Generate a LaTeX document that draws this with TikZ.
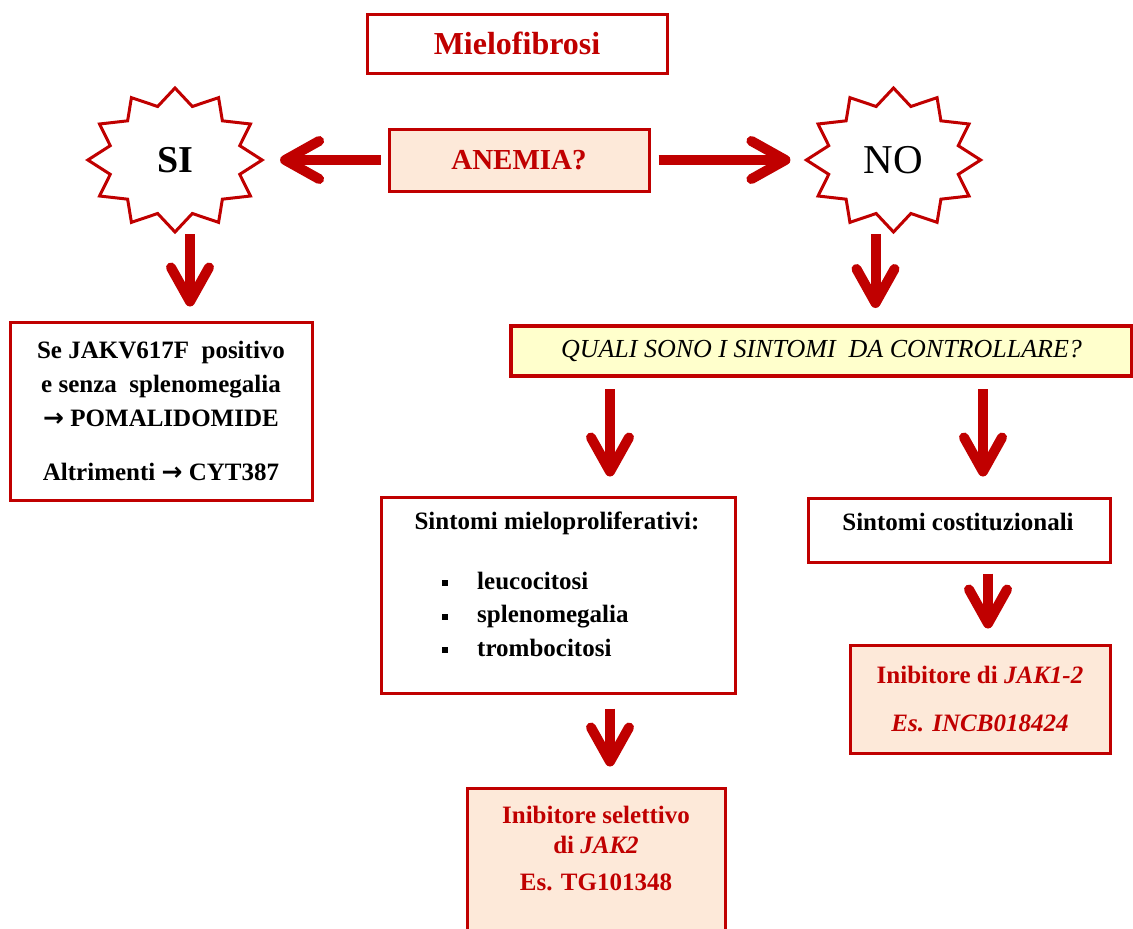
\documentclass[tikz,border=0pt]{standalone}
\usepackage{fontspec}
\setmainfont{Liberation Serif}
\newfontfamily\arrowfont{DejaVu Sans}
\usetikzlibrary{shapes.geometric,arrows.meta}
\definecolor{mred}{HTML}{C00000}
\definecolor{peach}{HTML}{FDE9D9}
\definecolor{paleyellow}{HTML}{FFFFCC}
\newcommand{\bul}{\rule[3pt]{6pt}{6pt}\hspace{29pt}}
\newcommand{\thn}{{\arrowfont\bfseries →}}

\begin{document}
\begin{tikzpicture}[x=1pt,y=-1pt,
		box/.style={draw=mred, line width=3pt, fill=white, inner sep=0pt, align=center},
		burst/.style={star, star points=12, star point ratio=1.3, draw=mred, line width=3pt, fill=white, minimum size=144pt, inner sep=0pt, xscale=1.21},
		flow/.style={draw=mred, line width=10pt, -{Straight Barb[length=34pt,width=38pt,round]}},
		body/.style={font=\fontsize{25}{34}\selectfont\bfseries, align=center},
		redtxt/.style={body, text=mred}]
			\fill[white] (0,0) rectangle (1133,929);
			\useasboundingbox (0,0) rectangle (1133,929);
			
			\node[box, minimum width=300pt, minimum height=59pt, text=mred, font=\fontsize{32}{38}\selectfont\bfseries] (mf) at (517,43.5) {Mielofibrosi};
			\node[box, fill=peach, minimum width=260pt, minimum height=62pt, text=mred, font=\fontsize{29}{34}\selectfont\bfseries] (anemia) at (519,160) {ANEMIA?};
			
			\node[burst] (sistar) at (175,160) {};
			\node[font=\fontsize{38}{44}\selectfont\bfseries] (si) at (sistar) {SI};
			\node[burst] (nostar) at (893.5,160) {};
			\node[font=\fontsize{41}{48}\selectfont] (no) at (nostar) {NO};
			
			\node[box, body, minimum width=302pt, minimum height=178pt] (sires) at (161,411) {Se JAKV617F\ \ positivo\\e senza\ \ splenomegalia\\\thn{} POMALIDOMIDE\\[20pt]Altrimenti \thn{} CYT387};
			\node[box, fill=paleyellow, line width=4pt, minimum width=621pt, minimum height=50pt, font=\fontsize{26}{30}\selectfont\itshape] (quali) at (821.5,351) {QUALI SONO I SINTOMI\ \ DA CONTROLLARE?};
			
			\node[box, minimum width=354pt, minimum height=196pt] (mp) at (558,595) {};
			\node[body] (mptitle) at (557,523) {Sintomi mieloproliferativi:};
			\node[body, align=left, anchor=west, inner sep=0pt, font=\fontsize{25}{33.5}\selectfont\bfseries] (mplist) at (442,614) {\bul leucocitosi\\\bul splenomegalia\\\bul trombocitosi};
			
			\node[box, minimum width=302pt, minimum height=64pt] (cost) at (959,530) {};
			\node[body] (costtxt) at (958,522) {Sintomi costituzionali};
			
			\node[box, redtxt, fill=peach, minimum width=260pt, minimum height=108pt] (jak) at (980,699) {Inibitore di \textit{JAK1-2}\\[14pt]\textit{Es. INCB018424}};
			
			\node[box, fill=peach, minimum width=258pt, minimum height=170pt] (sel) at (596,873) {};
			\node[redtxt, font=\fontsize{25}{30}\selectfont\bfseries] (seltxt) at (596,848.5) {Inibitore selettivo\\di \textit{JAK2}\\[7pt]Es. TG101348};
			
			\draw[flow, shorten <=7pt, shorten >=15pt] (anemia.west) -- (sistar.east);
			\draw[flow, shorten <=8pt, shorten >=13pt] (anemia.east) -- (nostar.west);
			\draw[flow, shorten >=14pt] ([xshift=15pt]sistar.south) -- ([xshift=15pt]sistar.south |- sires.north);
			\draw[flow, shorten >=16pt] ([xshift=-18pt]nostar.south) -- ([xshift=-18pt]nostar.south |- quali.north);
			\draw[flow, shorten <=11pt, shorten >=19pt] ([xshift=52pt]mp.north |- quali.south) -- ([xshift=52pt]mp.north);
			\draw[flow, shorten <=11pt, shorten >=20pt] ([xshift=24pt]cost.north |- quali.south) -- ([xshift=24pt]cost.north);
			\draw[flow, shorten <=10pt, shorten >=15pt] ([xshift=29pt]cost.south) -- ([xshift=29pt]cost.south |- jak.north);
			\draw[flow, shorten <=14pt, shorten >=20pt] ([xshift=52pt]mp.south) -- ([xshift=52pt]mp.south |- sel.north);
		\end{tikzpicture}
\end{document}
